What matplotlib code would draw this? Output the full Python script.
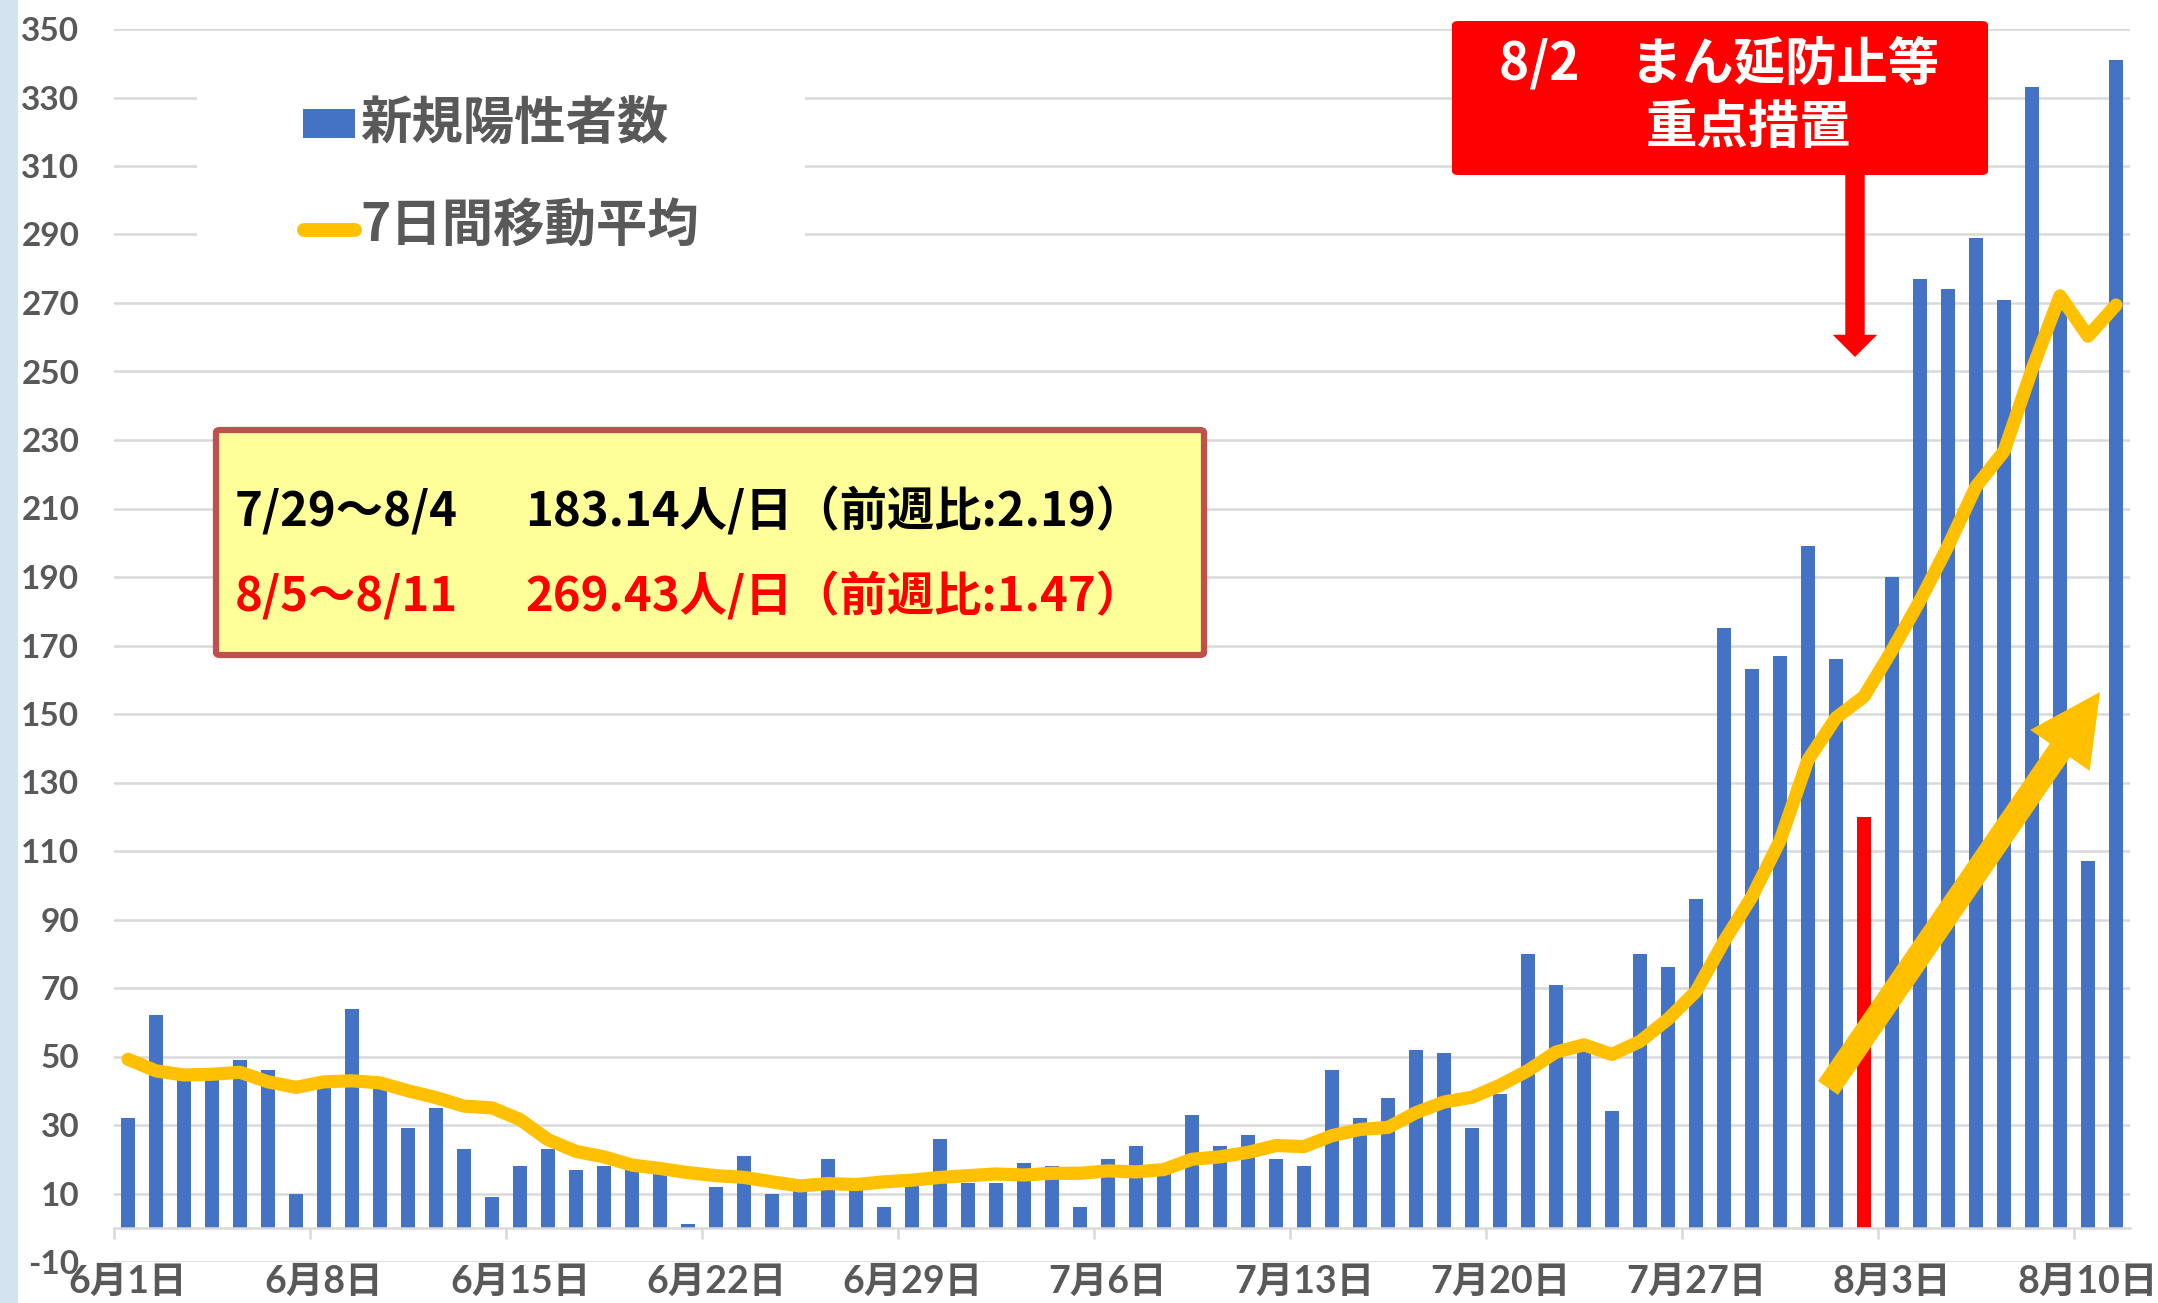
import numpy as np
import matplotlib
matplotlib.use("Agg")
import matplotlib.pyplot as plt
from matplotlib.patches import Rectangle, FancyBboxPatch, FancyArrowPatch
from matplotlib.lines import Line2D

plt.rcParams['font.family'] = ['Lato', 'Noto Sans CJK JP', 'DejaVu Sans']
plt.rcParams['axes.unicode_minus'] = False

# ---------------- data ----------------
new_cases = [
    # June 1-30
    32, 62, 45, 44, 49, 46, 10, 44, 64, 41, 29, 35, 23, 9, 18, 23, 17, 18, 17, 16,
    1, 12, 21, 10, 11, 20, 12, 6, 13, 26,
    # July 1-31
    13, 13, 19, 18, 6, 20, 24, 16, 33, 24, 27, 20, 18, 46, 32, 38, 52, 51, 29, 39,
    80, 71, 53, 34, 80, 76, 96, 175, 163, 167, 199,
    # Aug 1-11
    166, 120, 190, 277, 274, 289, 271, 333, 271, 107, 341,
]
moving_avg = [
    49.2, 45.8, 44.6, 44.8, 45.4, 42.6, 41.0, 42.6, 42.9, 42.3, 40.0, 38.0, 35.5, 35.0,
    31.6, 25.7, 22.3, 20.7, 18.3, 17.3, 16.1, 15.2, 14.7, 13.4, 12.2, 12.9, 12.6, 13.4,
    13.9, 14.7,
    15.2, 15.7, 15.4, 15.9, 15.9, 16.6, 16.3, 17.0, 20.0, 20.7, 22.0, 24.0, 23.7, 26.9,
    28.7, 29.3, 33.6, 36.7, 38.1, 41.6, 45.9, 51.3, 53.4, 50.6, 54.4, 60.9, 69.0, 83.6,
    96.7, 113.0, 136.6,
    148.9, 155.1, 168.6, 183.1, 199.0, 216.4, 226.7, 250.6, 272.1, 260.3, 269.4,
]
highlight_index = 62  # 8/2
tick_labels = ["6月1日", "6月8日", "6月15日", "6月22日", "6月29日", "7月6日",
               "7月13日", "7月20日", "7月27日", "8月3日", "8月10日"]
legend_labels = ["新規陽性者数", "7日間移動平均"]
box_line1 = ["7/29～8/4", "183.14人/日（前週比:2.19）"]
box_line2 = ["8/5～8/11", "269.43人/日（前週比:1.47）"]
callout = ["8/2　まん延防止等", "重点措置"]

# ---------------- figure ----------------
W, H = 2158, 1303
fig = plt.figure(figsize=(W / 100, H / 100), dpi=100)
fig.patch.set_facecolor("white")


def fx(px):
    return px / W


def fy(py):
    return 1 - py / H


GRAY = "#595959"
GRID = "#D9D9D9"
BLUE = "#4472C4"
YEL = "#FFC000"

# left light-blue strip
fig.patches.append(Rectangle((0, 0), fx(18), 1, transform=fig.transFigure,
                             facecolor="#D3E3F0", edgecolor="none", zorder=0))

ax = fig.add_axes([fx(114), fy(1262), fx(2130) - fx(114), fy(29) - fy(1262)])
n = len(new_cases)
x = np.arange(n)
colors = [BLUE] * n
colors[highlight_index] = "#FF0000"
ax.bar(x, new_cases, width=0.48, color=colors, linewidth=0, zorder=2)
ax.plot(x, moving_avg, color=YEL, lw=9.5, solid_joinstyle="round",
        solid_capstyle="round", zorder=3)

ax.set_xlim(-0.5, n - 0.5)
ax.set_ylim(-10, 350)
ax.set_yticks(np.arange(-10, 351, 20))
ax.yaxis.grid(True, color=GRID, lw=1.8)
ax.set_axisbelow(True)
for s in ["left", "right", "top"]:
    ax.spines[s].set_visible(False)
ax.spines["bottom"].set_position(("data", 0))
ax.spines["bottom"].set_color(GRID)
ax.spines["bottom"].set_linewidth(1.8)

ax.set_xticks(np.arange(-0.5, n, 7))
ax.set_xticklabels([])
ax.tick_params(axis="x", which="major", length=8, width=1.8, color=GRID, direction="out")
ax.set_xticks(np.arange(0, n, 7), minor=True)
ax.set_xticklabels(tick_labels, minor=True)
ax.tick_params(axis="x", which="minor", length=0, pad=27, labelsize=27,
               labelcolor=GRAY)
for t in ax.get_xticklabels(minor=True):
    t.set_fontweight("bold")
    t.set_family(["Lato", "Noto Sans CJK JP"])

ax.tick_params(axis="y", length=0, pad=25, labelsize=24, labelcolor=GRAY)
for t in ax.get_yticklabels():
    t.set_fontweight("bold")

# legend (white background box + items)
fig.patches.append(Rectangle((fx(197), fy(285)), fx(805) - fx(197), fy(50) - fy(285),
                             transform=fig.transFigure, facecolor="white",
                             edgecolor="none", zorder=1))
fig.patches.append(Rectangle((fx(303), fy(138)), fx(355) - fx(303), fy(109) - fy(138),
                             transform=fig.transFigure, facecolor=BLUE,
                             edgecolor="none", zorder=2))
fig.lines.append(Line2D([fx(304), fx(355)], [fy(230), fy(230)], transform=fig.transFigure,
                        color=YEL, lw=10, solid_capstyle="round", zorder=2))
fig.text(fx(360), fy(123), legend_labels[0], fontsize=37, fontweight="bold", color=GRAY,
         ha="left", va="center", family=["Noto Sans CJK JP"], zorder=3)
fig.text(fx(360), fy(226), legend_labels[1], fontsize=37, fontweight="bold", color=GRAY,
         ha="left", va="center", family=["Noto Sans CJK JP"], zorder=3)

# info box
fig.patches.append(FancyBboxPatch((fx(216), fy(655)), fx(1204) - fx(216), fy(430) - fy(655),
                                  boxstyle="round,pad=0,rounding_size=0.002",
                                  transform=fig.transFigure, facecolor="#FFFF99",
                                  edgecolor="#C0504D", lw=4.5, zorder=4))
for (a, b), yy, col in [(box_line1, 512, "black"), (box_line2, 597, "#FF0000")]:
    fig.text(fx(235), fy(yy), a, fontsize=34, color=col, ha="left", va="center",
             fontweight="bold", family=["Noto Sans CJK JP"], zorder=5)
    fig.text(fx(525), fy(yy), b, fontsize=34, color=col, ha="left", va="center",
             fontweight="bold", family=["Noto Sans CJK JP"], zorder=5)

# red callout box with arrow
fig.patches.append(FancyBboxPatch((fx(1452), fy(175)), fx(1988) - fx(1452), fy(21) - fy(175),
                                  boxstyle="round,pad=0,rounding_size=0.003",
                                  transform=fig.transFigure, facecolor="#FF0000",
                                  edgecolor="none", zorder=4))
fig.text(fx(1719), fy(64), callout[0], fontsize=37, color="white", fontweight="bold",
         ha="center", va="center", family=["Noto Sans CJK JP"], zorder=5)
fig.text(fx(1748), fy(128), callout[1], fontsize=37, color="white", fontweight="bold",
         ha="center", va="center", family=["Noto Sans CJK JP"], zorder=5)
fig.patches.append(FancyArrowPatch((fx(1855), fy(172)), (fx(1855), fy(357)),
                                   transform=fig.transFigure,
                                   arrowstyle="simple,head_length=0.16,head_width=0.32,tail_width=0.14",
                                   mutation_scale=100, color="#FF0000", lw=0,
                                   shrinkA=0, shrinkB=0, zorder=4))

# big yellow trend arrow
fig.patches.append(FancyArrowPatch((fx(1828), fy(1088)), (fx(2100), fy(692)),
                                   transform=fig.transFigure,
                                   arrowstyle="simple,head_length=0.51,head_width=0.52,tail_width=0.175",
                                   mutation_scale=100, color=YEL, lw=0,
                                   shrinkA=0, shrinkB=0, zorder=4))

fig.savefig("out.png", dpi=100)
